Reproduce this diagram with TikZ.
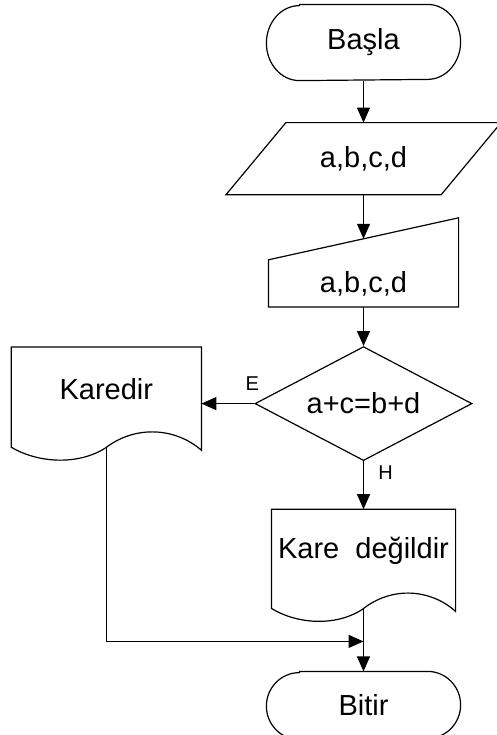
\documentclass[tikz,border=0pt]{standalone}
\usepackage{fontspec}
\setmainfont{Liberation Sans}
\usetikzlibrary{positioning, arrows.meta, shapes.geometric, calc}

% outlines of the flowchart symbols that TikZ has no shape for
\newcommand{\termoutline}[2]{% node, half height
  \draw ($(#1.north west)+(16.5pt,0)$) -- ($(#1.north east)+(-16.5pt,0)$)
    arc[start angle=90, end angle=-90, x radius=16.5pt, y radius=#2]
    -- ($(#1.south west)+(16.5pt,0)$)
    arc[start angle=270, end angle=90, x radius=16.5pt, y radius=#2] -- cycle;}
\newcommand{\dataoutline}[1]{%
  \draw ($(#1.south west)+(-15pt,0)$) -- ($(#1.south east)+(-15pt,0)$)
    -- ($(#1.north east)+(15pt,0)$) -- ($(#1.north west)+(15pt,0)$) -- cycle;}
\newcommand{\manualoutline}[1]{%
  \draw (#1.north west) -- ($(#1.north east)+(0,21pt)$)
    -- (#1.south east) -- (#1.south west) -- cycle;}
\newcommand{\docoutline}[2]{% node, width
  \draw ($(#1.south west)+(0,-7.5pt)$) -- (#1.north west) -- (#1.north east)
    -- ($(#1.south east)+(0,-9pt)$)
    .. controls ($(#1.south west)+(0.873*#2,2pt)$) and ($(#1.south west)+(0.661*#2,4pt)$)
    .. ($(#1.south west)+(0.497*#2,-8pt)$)
    .. controls ($(#1.south west)+(0.344*#2,-17pt)$) and ($(#1.south west)+(0.132*#2,-15pt)$)
    .. ($(#1.south west)+(0,-7.5pt)$) -- cycle;}

\begin{document}
\begin{tikzpicture}[
    >={Triangle[length=7.5pt, width=6.5pt]}, line width=0.6pt,
    txt/.style={inner sep=0pt, font=\fontsize{14.5}{17}\selectfont},
    decision/.style={draw, diamond, aspect=1.9, inner sep=0pt, minimum width=108.5pt, minimum height=57pt, font=\fontsize{14.5}{17}\selectfont},
    lbl/.style={inner sep=0pt, font=\fontsize{10}{12}\selectfont}
]
\useasboundingbox (0,0) rectangle (248.5pt,-367.5pt);

% Simboli
\node[txt, minimum width=96.5pt, minimum height=37.5pt] (start) at (181.75pt,-21.25pt) {Başla};
\node[txt, minimum width=107pt, minimum height=35.5pt, below=21pt of start] (input) {a,b,c,d};
\node[txt, minimum width=94.5pt, minimum height=23pt, below=32.5pt of input] (manual) {a,b,c,d};
\node[decision, below=19.5pt of manual] (check) {a+c=b+d};
\node[txt, minimum width=91.5pt, minimum height=41.5pt, below=24pt of check] (no) {Kare\ \ değildir};
\node[txt, minimum width=94.5pt, minimum height=42pt, left=26.5pt of check, yshift=7pt] (yes) {Karedir};
\node[txt, minimum width=96.5pt, minimum height=33.5pt, below=39pt of no] (stop) {Bitir};

\termoutline{start}{18.75pt}
\dataoutline{input}
\manualoutline{manual}
\docoutline{yes}{94.5pt}
\docoutline{no}{91.5pt}
\termoutline{stop}{16.75pt}

% Punti di aggancio
\coordinate (manual top) at ($(manual.north)+(0,10.5pt)$);
\coordinate (yes end) at ($(yes.south)+(0,-8pt)$);
\coordinate (no end) at ($(no.south)+(0,-8pt)$);
\coordinate (merge) at ($(stop.north)+(0,15pt)$);

% Frecce
\draw[->] (start) -- (input);
\draw[->] (input) -- (manual top);
\draw[->] (manual) -- (check);
\draw[->] (check.west) -- (check.west -| yes.east);
\draw[->] (check) -- (no);
\draw[->] (yes end) |- (merge);
\draw[->] (no end) -- (stop);

% Etichette
\node[lbl, anchor=base] (e) at ($(check.west)+(-1pt,6.5pt)$) {E};
\node[lbl, anchor=base] (h) at ($(check.south)+(11pt,-9pt)$) {H};

\end{tikzpicture}
\end{document}
